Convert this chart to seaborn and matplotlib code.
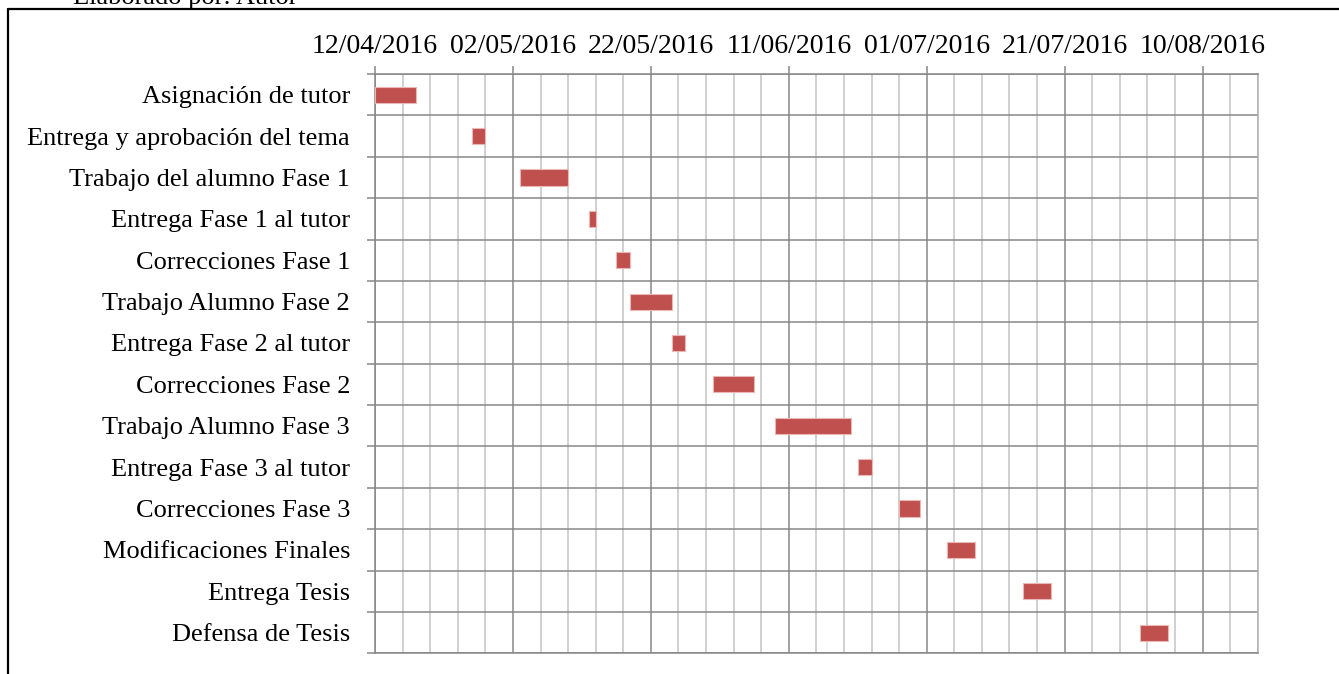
import matplotlib
matplotlib.use("Agg")
import matplotlib.pyplot as plt
import seaborn as sns
import pandas as pd
import numpy as np
from matplotlib.lines import Line2D

# ---------------- data ----------------
tasks = [
    "Asignación de tutor",
    "Entrega y aprobación del tema",
    "Trabajo del alumno Fase 1",
    "Entrega Fase 1 al tutor",
    "Correcciones Fase 1",
    "Trabajo Alumno Fase 2",
    "Entrega Fase 2 al tutor",
    "Correcciones Fase 2",
    "Trabajo Alumno Fase 3",
    "Entrega Fase 3 al tutor",
    "Correcciones Fase 3",
    "Modificaciones Finales",
    "Entrega Tesis",
    "Defensa de Tesis",
]
start_dates = [
    "12/04/2016", "26/04/2016", "03/05/2016", "13/05/2016", "17/05/2016",
    "19/05/2016", "25/05/2016", "31/05/2016", "09/06/2016", "21/06/2016",
    "27/06/2016", "04/07/2016", "15/07/2016", "01/08/2016",
]
durations = [6, 2, 7, 1, 2, 6, 2, 6, 11, 2, 3, 4, 4, 4]
tick_dates = ["12/04/2016", "02/05/2016", "22/05/2016", "11/06/2016",
              "01/07/2016", "21/07/2016", "10/08/2016"]
axis_start = "12/04/2016"
axis_end = "18/08/2016"
minor_step_days = 4

# ---------------- derived ----------------
t0 = pd.to_datetime(axis_start, dayfirst=True)
def days(s):
    return (pd.to_datetime(s, dayfirst=True) - t0).days

df = pd.DataFrame({
    "task": tasks,
    "offset": [days(s) for s in start_dates],
    "dur": durations,
})
x_end = days(axis_end)
major_pos = [days(s) for s in tick_dates]

sns.set_theme(style="white")
plt.rcParams["font.family"] = ["Liberation Serif", "DejaVu Serif"]

fig = plt.figure(figsize=(13.39, 6.74), dpi=100)
ax = fig.add_axes([0.2801, 0.0307, 0.6592, 0.8595])

bar_color = "#C0504D"
dark = "#878787"
light = "#c4c4c4"

sns.barplot(data=df, x="dur", y="task", left=df["offset"], orient="y",
            color=bar_color, saturation=1, width=0.39, errorbar=None,
            edgecolor="#e8b7b6", linewidth=0.8, ax=ax, zorder=3)

ax.set_xlim(0, x_end)
ax.set_ylim(len(tasks) - 0.5, -0.5)

ax.set_xticks(major_pos)
ax.set_xticklabels(tick_dates)
ax.set_xticks(np.arange(0, x_end + 1, minor_step_days), minor=True)
ax.set_yticks(np.arange(-0.5, len(tasks), 1), minor=True)

ax.xaxis.tick_top()
ax.xaxis.set_label_position("top")
ax.tick_params(axis="x", which="major", top=True, bottom=False, length=6,
               width=1.1, color=dark, pad=5, labelsize=20, labelcolor="black")
ax.tick_params(axis="x", which="minor", top=False, bottom=False, length=0)
ax.tick_params(axis="y", which="major", left=False, length=0, pad=18,
               labelsize=19, labelcolor="black")
ax.tick_params(axis="y", which="minor", left=True, length=6, width=1.1,
               color=dark)

ax.set_axisbelow(True)
ax.xaxis.grid(True, which="major", color=dark, linewidth=1.1)
ax.xaxis.grid(True, which="minor", color=light, linewidth=1.1)
ax.yaxis.grid(True, which="minor", color=dark, linewidth=1.1)
ax.yaxis.grid(False, which="major")

for side in ["top", "left", "bottom"]:
    ax.spines[side].set_color(dark)
    ax.spines[side].set_linewidth(1.1)
ax.spines["right"].set_color("#b0b0b0")
ax.spines["right"].set_linewidth(1.1)

ax.set_xlabel("")
ax.set_ylabel("")

# outer frame and cut-off caption
W, H = 1339, 674
fig.add_artist(Line2D([8 / W, 1.0], [1 - 8.5 / H, 1 - 8.5 / H], color="black",
                      linewidth=1.6, transform=fig.transFigure))
fig.add_artist(Line2D([8 / W, 8 / W], [1 - 8.5 / H, 0.0], color="black",
                      linewidth=1.6, transform=fig.transFigure))
fig.text(73 / W, 1 - 4 / H, "Elaborado por: Autor", fontsize=19,
         va="baseline", ha="left", color="black")

fig.savefig("out.png", dpi=100)
